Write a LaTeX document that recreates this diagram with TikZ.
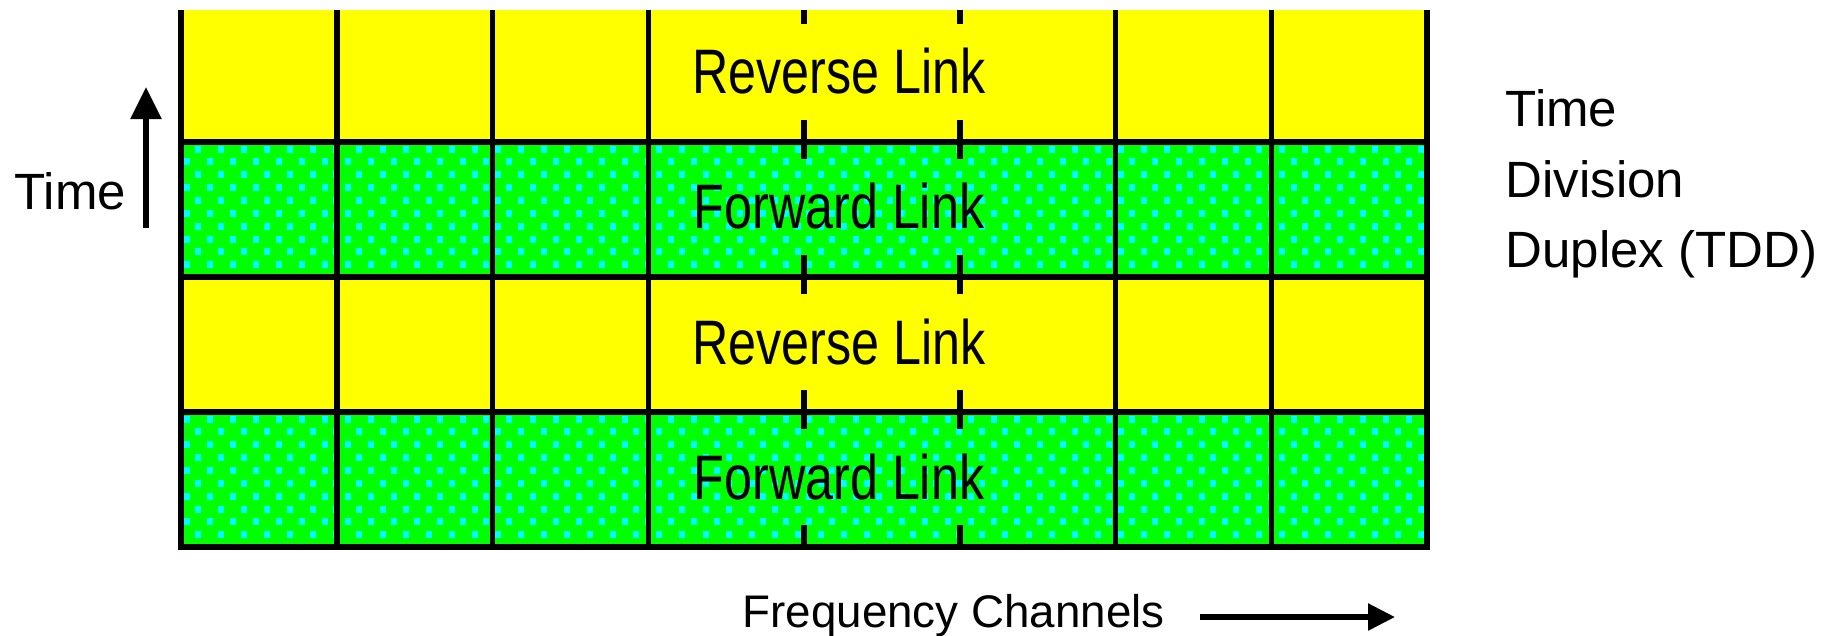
\documentclass[tikz,border=0pt]{standalone}
\usepackage{fontspec}
\setmainfont{Liberation Sans}
\usetikzlibrary{arrows.meta}
\definecolor{slotyellow}{RGB}{255,255,0}
\definecolor{slotgreen}{RGB}{0,255,0}
\definecolor{slotdot}{RGB}{0,255,255}
\tikzset{
  hline/.style={line width=0.065cm, line cap=rect},
  vline/.style={line width=0.055cm},
  axisarrow/.style={line width=0.055cm, -{Triangle[length=0.32cm, width=0.30cm]}},
  chanarrow/.style={line width=0.055cm, -{Triangle[length=0.27cm, width=0.26cm]}},
  midlbl/.style={font=\fontsize{14.3}{17}\selectfont, inner sep=0pt, anchor=base},
  sidelbl/.style={font=\fontsize{14.5}{17}\selectfont, inner sep=0pt, anchor=base west},
}

\begin{document}
\begin{tikzpicture}[x=0.01cm, y=-0.01cm]
  \useasboundingbox (0,0) rectangle (1837,635);

  \fill[slotyellow] (181,10) rectangle (1427,142);
  \fill[slotgreen] (181,142) rectangle (1427,277);
  \fill[slotyellow] (181,277) rectangle (1427,412);
  \fill[slotgreen] (181,412) rectangle (1427,547);

  \begin{scope}
    \clip (181,142) rectangle (1427,277) (181,412) rectangle (1427,547);
    \foreach \n in {0,...,30} {
      \pgfmathsetmacro\rowy{149+12.86*\n}
      \pgfmathsetmacro\rowx{ifthenelse(mod(\n,2)==0,198,186.5)}
      \foreach \j in {0,...,54}
        \fill[slotdot] (\rowx+23.07*\j-3,\rowy-3.5) rectangle ++(6,7);
    }
  \end{scope}

  \foreach \i in {0,1,2,3,6,7,8}
    \draw[vline] (181+155.75*\i,10) -- (181+155.75*\i,547);
  \foreach \i in {4,5}
    \foreach \ya/\yb in {10/24,120/159,255/294,390/429,525/547}
      \draw[vline] (181+155.75*\i,\ya) -- (181+155.75*\i,\yb);
  \foreach \yy in {142,277,412,547}
    \draw[hline] (181,\yy) -- (1427,\yy);

  \node[midlbl] (rev1) at (839,93) {\scalebox{1}[1.25]{Reverse Link}};
  \node[midlbl] (fwd1) at (839,228) {\scalebox{1}[1.25]{Forward Link}};
  \node[midlbl] (rev2) at (839,364) {\scalebox{1}[1.25]{Reverse Link}};
  \node[midlbl] (fwd2) at (839,499) {\scalebox{1}[1.25]{Forward Link}};

  \node[sidelbl] (tdd1) at (1505,126) {Time};
  \node[sidelbl] (tdd2) at (1505,197) {Division};
  \node[sidelbl] (tdd3) at (1505,267) {Duplex (TDD)};

  \node[sidelbl] (timelbl) at (14,209) {Time};
  \coordinate (timefoot) at (146,228);
  \coordinate (timetip) at (146,87);
  \draw[axisarrow] (timefoot) -- (timetip);

  \node[sidelbl, font=\fontsize{13}{16}\selectfont] (freqlbl) at (742,627) {Frequency Channels};
  \coordinate (freqstart) at (1200,617);
  \coordinate (freqend) at (1395,617);
  \draw[chanarrow] (freqstart) -- (freqend);
\end{tikzpicture}
\end{document}
